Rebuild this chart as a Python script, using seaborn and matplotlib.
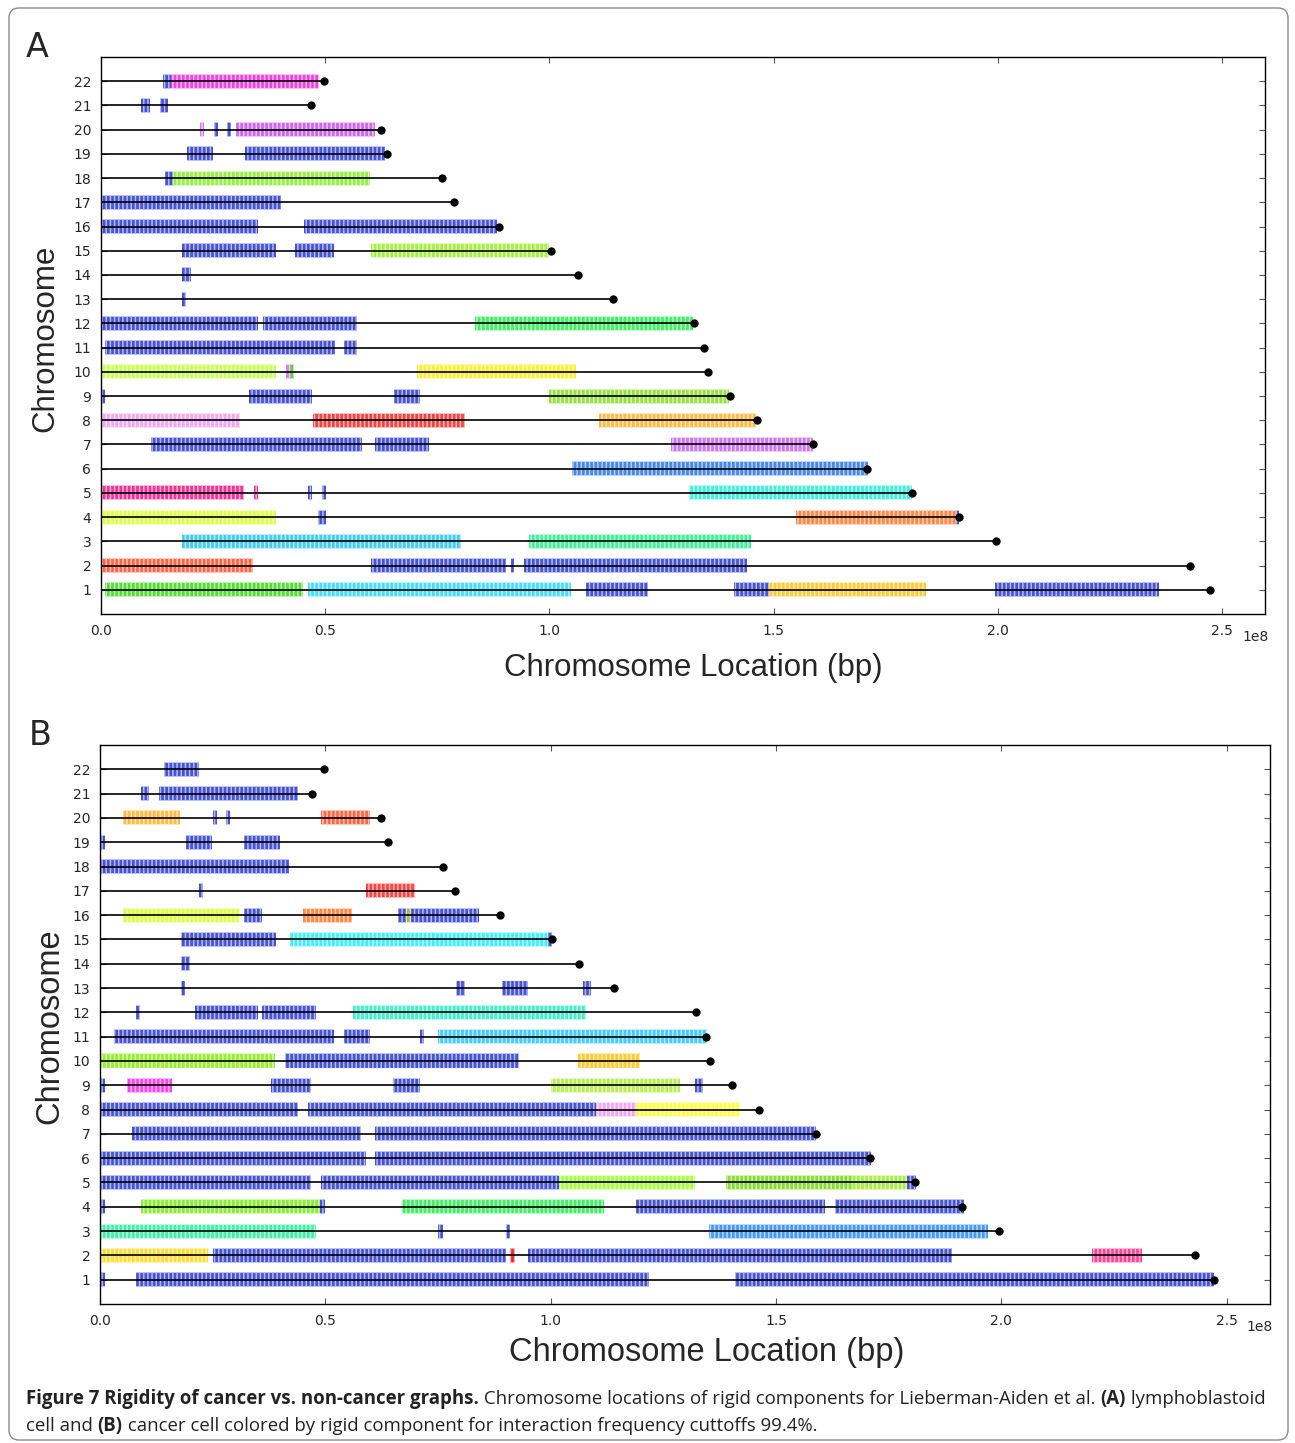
import numpy as np
import pandas as pd
import matplotlib
matplotlib.use("Agg")
import matplotlib.pyplot as plt
import seaborn as sns
from matplotlib.patches import FancyBboxPatch
from matplotlib.transforms import IdentityTransform

# ---------------- data ----------------
chromosomes = list(range(1, 23))
# hg18 chromosome lengths (Mb)
chrom_len_mb = [247.25, 242.95, 199.50, 191.27, 180.86, 170.90, 158.82, 146.27,
                140.27, 135.37, 134.45, 132.35, 114.14, 106.37, 100.34, 88.83,
                78.77, 76.12, 63.81, 62.44, 46.94, 49.69]

B = '#4653d6'  # the large "blue" rigid component

# Panel A (lymphoblastoid) rigid-component segments, Mb
a_chrom = [22, 22,
           21, 21,
           20, 20, 20, 20,
           19, 19,
           18, 18,
           17,
           16, 16,
           15, 15, 15,
           14,
           13,
           12, 12, 12,
           11, 11,
           10, 10, 10, 10,
           9, 9, 9, 9,
           8, 8, 8,
           7, 7, 7,
           6,
           5, 5, 5, 5, 5,
           4, 4, 4, 4,
           3, 3,
           2, 2, 2, 2,
           1, 1, 1, 1, 1, 1]
a_start = [13.9, 15.6,
           9.0, 13.1,
           22.1, 25.1, 28.1, 30.0,
           19.2, 32.1,
           14.2, 16.1,
           0.0,
           0.0, 45.2,
           18.1, 43.3, 60.2,
           18.1,
           18.1,
           0.0, 36.1, 83.3,
           1.0, 54.2,
           0.0, 41.2, 42.1, 70.4,
           0.0, 33.1, 65.3, 100.0,
           0.0, 47.2, 111.0,
           11.1, 61.2, 127.1,
           105.0,
           0.0, 34.2, 46.2, 49.2, 131.1,
           0.0, 48.3, 155.1, 190.6,
           18.0, 95.4,
           0.0, 60.2, 91.4, 94.4,
           1.0, 46.2, 108.2, 141.1, 149.0, 199.3]
a_end = [15.6, 48.6,
         10.9, 14.9,
         23.0, 26.0, 29.0, 61.1,
         25.0, 63.3,
         16.1, 60.1,
         40.1,
         35.0, 88.3,
         39.0, 52.0, 100.0,
         20.0,
         18.9,
         35.0, 57.2, 132.0,
         52.1, 57.2,
         39.0, 42.1, 43.0, 105.9,
         1.0, 47.1, 71.2, 140.1,
         31.0, 81.2, 146.0,
         58.1, 73.2, 158.8,
         171.0,
         32.0, 35.0, 47.1, 50.1, 180.9,
         39.0, 50.1, 190.6, 191.3,
         80.2, 144.9,
         34.0, 90.4, 92.2, 144.0,
         45.0, 104.9, 122.0, 149.0, 183.9, 235.9]
a_color = [B, '#ee44dd',
           B, B,
           '#dd77ee', B, B, '#cc66ee',
           B, B,
           B, '#99ee44',
           B,
           B, B,
           B, B, '#aaee44',
           B,
           B,
           B, B, '#44ee66',
           B, B,
           '#ccff55', '#dd77ee', '#66cc44', '#ffee33',
           B, B, B, '#99e044',
           '#f0a8f0', '#ee4444', '#ffbb44',
           B, B, '#cc77ee',
           '#4488ee',
           '#ee3399', '#ee3399', B, B, '#44eedd',
           '#ddff44', B, '#ff8844', B,
           '#44ccee', '#44ee99',
           '#ff6644', B, B, B,
           '#55dd33', '#44ddff', B, B, '#ffcc33', B]

# Panel B (cancer) rigid-component segments, Mb
b_chrom = [22,
           21, 21,
           20, 20, 20, 20,
           19, 19, 19,
           18,
           17, 17,
           16, 16, 16, 16, 16, 16,
           15, 15, 15,
           14,
           13, 13, 13, 13,
           12, 12, 12, 12,
           11, 11, 11, 11,
           10, 10, 10,
           9, 9, 9, 9, 9, 9,
           8, 8, 8, 8,
           7, 7,
           6, 6,
           5, 5, 5, 5, 5, 5,
           4, 4, 4, 4, 4, 4,
           3, 3, 3, 3,
           2, 2, 2, 2, 2,
           1, 1, 1]
b_start = [14.1,
           9.0, 13.0,
           5.0, 25.1, 28.0, 49.1,
           0.2, 19.0, 32.0,
           0.2,
           22.0, 59.0,
           5.0, 32.0, 45.1, 66.1, 68.0, 68.9,
           18.0, 42.1, 99.4,
           18.0,
           18.0, 79.1, 89.1, 107.1,
           8.0, 21.0, 36.0, 56.1,
           3.0, 54.2, 71.1, 75.1,
           0.2, 41.1, 106.0,
           0.2, 6.0, 38.0, 65.0, 100.0, 132.1,
           0.2, 46.1, 110.0, 118.9,
           7.0, 61.1,
           0.2, 61.1,
           0.2, 49.1, 101.8, 139.0, 167.1, 179.1,
           0.2, 9.0, 48.9, 67.1, 119.0, 163.1,
           0.2, 75.1, 90.1, 135.1,
           0.2, 25.1, 91.0, 95.0, 220.2,
           0.2, 8.0, 141.0]
b_end = [21.9,
         10.9, 43.9,
         17.8, 26.0, 28.9, 60.0,
         1.0, 24.9, 39.9,
         41.9,
         22.9, 70.0,
         30.9, 36.0, 55.9, 68.0, 68.9, 84.0,
         39.0, 99.4, 100.3,
         19.9,
         18.9, 81.0, 95.0, 108.9,
         8.9, 35.0, 48.0, 107.9,
         51.9, 60.0, 72.0, 134.6,
         38.9, 93.0, 119.9,
         1.0, 15.9, 46.9, 71.0, 128.8, 133.9,
         44.0, 110.0, 118.9, 141.9,
         58.0, 158.8,
         59.0, 171.0,
         46.9, 101.8, 132.0, 167.1, 179.1, 181.0,
         1.0, 48.9, 49.9, 111.8, 160.9, 191.7,
         48.0, 76.0, 91.0, 197.0,
         24.0, 90.1, 92.0, 189.1, 231.2,
         1.0, 121.9, 247.2]
b_color = [B,
           B, B,
           '#ffbb44', B, B, '#ff6644',
           B, B, B,
           B,
           B, '#ff4444',
           '#ddff44', B, '#ff8844', B, '#aabb44', B,
           B, '#44eeff', B,
           B,
           B, B, B, B,
           B, B, B, '#44eecc',
           B, B, B, '#44ccff',
           '#99ee33', B, '#ffcc33',
           B, '#ff44ee', B, B, '#bbee55', B,
           B, B, '#f0a8f0', '#ffff44',
           B, B,
           B, B,
           B, B, '#aaff44', '#88dd33', '#aaee44', B,
           B, '#88ee33', B, '#44ee66', B, B,
           '#44eeaa', B, B, '#4499ff',
           '#ffdd33', B, '#ff2222', B, '#ff4499',
           B, B, B]

x_ticks = [0.0, 0.5e8, 1.0e8, 1.5e8, 2.0e8, 2.5e8]

# ---------------- style ----------------
sns.set_style("ticks")
plt.rcParams['font.family'] = ['DejaVu Sans']
plt.rcParams['hatch.linewidth'] = 1.1

W, H = 1295, 1443
fig = plt.figure(figsize=(W / 100, H / 100), dpi=100)


def fx(px):
    return px / W


def fy(py):
    return 1 - py / H


ends_df = pd.DataFrame({"chrom": chromosomes,
                        "end": np.array(chrom_len_mb) * 1e6})


def draw_panel(rect, chrom, start, end, color):
    ax = fig.add_axes(rect)
    st = np.array(start) * 1e6
    en = np.array(end) * 1e6
    # soft halo behind each component
    ax.barh(chrom, en - st, left=st, height=0.62, color=color, alpha=0.35,
            linewidth=0, zorder=1)
    ax.barh(chrom, en - st, left=st, height=0.54, color=color,
            edgecolor=(1, 1, 1, 0.6), linewidth=0, hatch='||||', zorder=2)
    ax.hlines(ends_df["chrom"], 0, ends_df["end"], color='black', lw=1.2, zorder=3)
    sns.scatterplot(data=ends_df, x="end", y="chrom", color='black', s=36,
                    edgecolor='black', linewidth=0, ax=ax, zorder=4, legend=False)
    ax.set_xlim(0, 2.596e8)
    ax.set_ylim(0, 23)
    ax.set_yticks(chromosomes)
    ax.set_yticklabels([str(c) for c in chromosomes])
    ax.set_xticks(x_ticks)
    ax.set_xticklabels(["0.0", "0.5", "1.0", "1.5", "2.0", "2.5"])
    ax.tick_params(direction='in', length=4, width=0.8, color='#555555',
                   labelsize=10, top=True, right=True, pad=7)
    for s in ax.spines.values():
        s.set_visible(True)
        s.set_linewidth(1.0)
        s.set_color('black')
    ax.set_xlabel("")
    ax.set_ylabel("")
    return ax


axA = draw_panel([fx(101), fy(614), fx(1265 - 101), (614 - 57) / H],
                 a_chrom, a_start, a_end, a_color)
axB = draw_panel([fx(100), fy(1304), fx(1270 - 100), (1304 - 745) / H],
                 b_chrom, b_start, b_end, b_color)

# scale factor text (as matplotlib's offset text)
fig.text(fx(1256), fy(637), "1e8", fontsize=10, ha='center', va='center')
fig.text(fx(1260), fy(1327), "1e8", fontsize=10, ha='center', va='center')

lab_font = ['Liberation Sans', 'DejaVu Sans']
fig.text(fx(693), fy(668), "Chromosome Location (bp)", fontsize=22.5,
         family=lab_font, ha='center', va='center')
fig.text(fx(45), fy(338), "Chromosome", fontsize=22.5, family=lab_font,
         rotation=90, ha='center', va='center')
fig.text(fx(707), fy(1353), "Chromosome Location (bp)", fontsize=23.5,
         family=lab_font, ha='center', va='center')
fig.text(fx(50), fy(1026), "Chromosome", fontsize=23.5, family=lab_font,
         rotation=90, ha='center', va='center')

fig.text(fx(26), fy(57), "A", fontsize=24, ha='left', va='baseline')
fig.text(fx(29), fy(745), "B", fontsize=24, ha='left', va='baseline')

# border
fig.add_artist(FancyBboxPatch((9, 3), 1279, 1432,
                              boxstyle='round,pad=0,rounding_size=10',
                              transform=IdentityTransform(), fill=False,
                              ec='#8a8a8a', lw=1.0))

# caption with mixed weights
cap_font = ['Open Sans', 'DejaVu Sans']
line1 = [("Figure 7 Rigidity of cancer vs. non-cancer graphs.", 'bold'),
         (" Chromosome locations of rigid components for Lieberman-Aiden et al. ", 'normal'),
         ("(A)", 'bold'), (" lymphoblastoid", 'normal')]
line2 = [("cell and ", 'normal'), ("(B)", 'bold'),
         (" cancer cell colored by rigid component for interaction frequency cuttoffs 99.4%.", 'normal')]

renderer = fig.canvas.get_renderer()


def rich_line(x0, y0, parts, size):
    x = x0
    texts = []
    for txt, wt in parts:
        t = fig.text(x, y0, txt, fontsize=size, fontweight=wt, family=cap_font,
                     va='baseline', ha='left', color='#222222')
        bb = t.get_window_extent(renderer=renderer)
        x = bb.x1 / W
        texts.append(t)
    return texts, x


# measure to fit width
probe, xend = rich_line(fx(26), fy(1404), line1, 13)
width_px = (xend - fx(26)) * W
for t in probe:
    t.remove()
size = 13 * (1230 / width_px)
rich_line(fx(26), fy(1404), line1, size)
rich_line(fx(26), fy(1431), line2, size)

fig.savefig("out.png", dpi=100)
